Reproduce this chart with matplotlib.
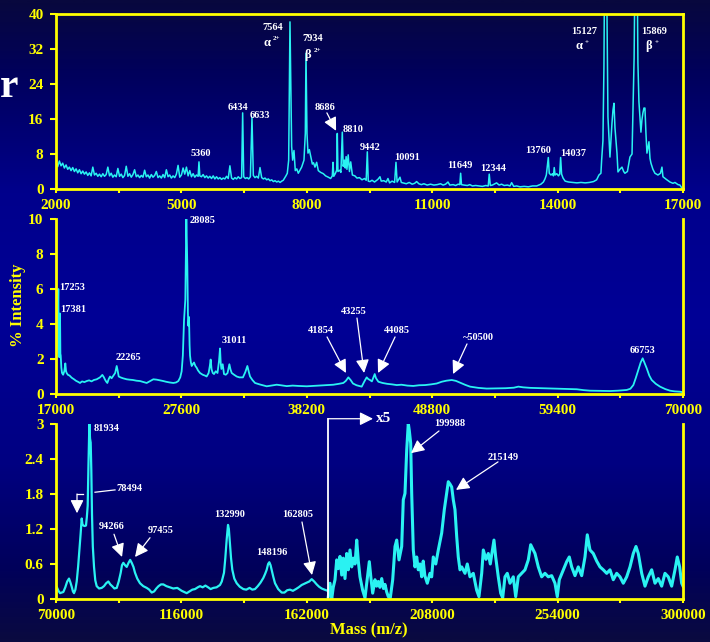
import numpy as np
import matplotlib
matplotlib.use('Agg')
import matplotlib.pyplot as plt
from matplotlib.colors import LinearSegmentedColormap

plt.rcParams['font.family'] = ['Liberation Serif', 'DejaVu Serif']
plt.rcParams['font.weight'] = 'bold'

YEL = '#ffff00'
CYAN = '#2af2f2'

# (mass, % intensity)
top_spec = [
    (2000, 6.0), (2040, 5.1), (2080, 6.4), (2120, 5.3), (2160, 5.9), (2200, 4.8), (2240, 5.5),
    (2280, 4.5), (2320, 5.0), (2360, 4.2), (2400, 4.9), (2440, 4.0), (2480, 4.6), (2520, 3.7),
    (2560, 4.4), (2600, 3.5), (2640, 4.1), (2680, 3.4), (2720, 3.9), (2760, 3.1), (2800, 3.7),
    (2840, 3.0), (2880, 5.0), (2920, 3.2), (2960, 3.6), (3000, 2.9), (3040, 3.4), (3080, 2.8),
    (3120, 3.5), (3160, 2.9), (3200, 3.3), (3240, 5.0), (3280, 3.0), (3320, 3.6), (3360, 2.7),
    (3400, 3.2), (3440, 2.8), (3480, 4.7), (3520, 2.9), (3560, 3.4), (3600, 2.6), (3640, 3.1),
    (3680, 5.2), (3720, 2.9), (3760, 3.5), (3800, 2.7), (3840, 3.3), (3880, 4.4), (3920, 2.8),
    (3960, 3.2), (4000, 2.6), (4040, 3.1), (4080, 2.7), (4120, 4.3), (4160, 2.8), (4200, 3.2),
    (4240, 2.5), (4280, 3.3), (4320, 2.7), (4360, 3.1), (4400, 4.0), (4440, 2.6), (4480, 3.0),
    (4520, 2.5), (4560, 3.3), (4600, 2.6), (4640, 4.4), (4680, 2.8), (4720, 3.2), (4760, 2.5),
    (4800, 3.0), (4840, 2.6), (4880, 3.4), (4920, 5.4), (4960, 2.7), (5000, 3.2), (5040, 4.8),
    (5080, 3.4), (5120, 5.0), (5160, 3.0), (5200, 4.2), (5240, 2.8), (5280, 3.5), (5320, 2.7),
    (5360, 3.2), (5400, 2.9), (5420, 6.2), (5440, 3.0), (5480, 2.8), (5520, 3.3), (5560, 2.6),
    (5600, 3.0), (5640, 2.5), (5680, 2.9), (5720, 2.4), (5760, 3.0), (5800, 2.3), (5840, 2.8),
    (5880, 2.3), (5920, 2.6), (5960, 2.2), (6000, 2.5), (6040, 2.3), (6080, 2.9), (6120, 2.4),
    (6160, 5.3), (6200, 2.5), (6240, 2.2), (6280, 2.6), (6320, 2.3), (6360, 2.8), (6400, 2.4),
    (6440, 2.6), (6465, 17.4), (6490, 2.8), (6530, 2.4), (6570, 2.6), (6610, 2.3), (6650, 2.8),
    (6688, 16.4), (6720, 3.1), (6760, 2.6), (6800, 2.9), (6840, 2.5), (6880, 4.9), (6920, 2.6),
    (6960, 2.3), (7000, 2.5), (7040, 2.1), (7080, 2.3), (7120, 1.9), (7160, 2.1), (7200, 1.7),
    (7240, 1.9), (7280, 1.6), (7320, 1.8), (7360, 1.5), (7400, 1.8), (7437, 2.0), (7500, 3.0),
    (7533, 3.6), (7566, 6.6), (7597, 38.2), (7637, 9.7), (7661, 6.6), (7693, 8.8), (7724, 4.2),
    (7760, 4.6), (7796, 3.6), (7840, 4.4), (7876, 5.0), (7932, 6.6), (7964, 12.7), (7980, 31.0),
    (8004, 12.7), (8028, 8.2), (8060, 9.0), (8093, 7.5), (8132, 5.7), (8160, 6.0), (8195, 5.0),
    (8235, 6.1), (8275, 4.2), (8330, 3.8), (8395, 3.5), (8450, 3.0), (8514, 2.7), (8570, 2.4),
    (8610, 3.0), (8626, 6.1), (8645, 2.9), (8680, 3.5), (8715, 4.3), (8729, 12.7), (8745, 4.0),
    (8790, 4.3), (8815, 3.8), (8849, 13.0), (8870, 5.2), (8900, 6.6), (8920, 4.8), (8940, 7.4),
    (8960, 4.5), (8990, 7.8), (9020, 4.0), (9050, 6.2), (9090, 3.2), (9150, 3.0), (9200, 2.5),
    (9260, 2.6), (9320, 2.1), (9380, 2.4), (9420, 2.0), (9447, 8.5), (9470, 1.8), (9511, 1.7),
    (9560, 2.0), (9620, 1.6), (9700, 2.2), (9750, 2.8), (9780, 1.8), (9840, 1.9), (9900, 1.6),
    (9941, 2.4), (9980, 1.4), (10040, 1.8), (10100, 1.5), (10133, 6.1), (10160, 1.6),
    (10229, 2.7), (10260, 1.5), (10301, 1.4), (10380, 1.2), (10450, 1.5), (10520, 1.1),
    (10580, 1.3), (10627, 1.7), (10680, 1.2), (10740, 1.0), (10800, 1.2), (10880, 0.9),
    (10960, 1.1), (11040, 0.9), (11120, 1.0), (11200, 1.2), (11260, 0.9), (11320, 1.1),
    (11377, 1.6), (11420, 0.9), (11500, 1.0), (11560, 0.8), (11620, 1.1), (11660, 1.0),
    (11680, 3.6), (11700, 1.0), (11760, 0.9), (11840, 0.8), (11900, 1.0), (11960, 0.7),
    (12040, 0.8), (12120, 0.7), (12200, 0.6), (12280, 0.8), (12340, 0.7), (12364, 3.4),
    (12390, 0.8), (12440, 0.9), (12500, 1.2), (12540, 1.4), (12600, 0.9), (12660, 1.1),
    (12720, 0.8), (12800, 0.9), (12860, 0.7), (12900, 1.45), (12950, 0.6), (13020, 0.7),
    (13100, 0.5), (13200, 0.6), (13300, 0.5), (13400, 0.7), (13500, 0.7), (13600, 1.1),
    (13660, 1.6), (13697, 2.3), (13730, 3.2), (13777, 7.2), (13800, 3.6), (13840, 3.2),
    (13880, 3.5), (13900, 3.0), (13919, 4.9), (13940, 3.2), (13980, 3.5), (14020, 3.0),
    (14050, 3.4), (14072, 7.2), (14095, 3.4), (14130, 2.5), (14180, 1.8), (14260, 1.6),
    (14360, 1.5), (14460, 1.4), (14560, 1.5), (14660, 1.4), (14760, 1.5), (14860, 1.7),
    (14933, 2.1), (14989, 3.2), (15036, 3.6), (15053, 6.6), (15084, 11.0), (15108, 28.0),
    (15130, 60.0), (15149, 80.0), (15165, 60.0), (15181, 40.0), (15204, 16.5), (15252, 7.3),
    (15300, 15.0), (15324, 18.0), (15348, 19.6), (15372, 14.0), (15420, 8.2), (15444, 3.9),
    (15490, 4.5), (15540, 5.0), (15580, 4.0), (15610, 3.6), (15670, 4.0), (15730, 7.3),
    (15780, 8.0), (15802, 18.0), (15830, 30.0), (15850, 50.0), (15873, 80.0), (15895, 60.0),
    (15921, 28.8), (15945, 20.0), (15993, 13.0), (16017, 15.8), (16041, 17.4), (16065, 18.5),
    (16089, 18.5), (16113, 12.8), (16137, 8.2), (16160, 9.5), (16185, 10.8), (16210, 7.0),
    (16233, 5.9), (16280, 4.5), (16328, 3.6), (16400, 3.2), (16460, 3.6), (16496, 5.0),
    (16520, 2.8), (16600, 2.2), (16687, 1.6), (16760, 1.3), (16807, 1.5), (16880, 1.0),
    (16926, 0.9), (16974, 0.2),
]

mid_spec = [
    (17000, 2.2), (17060, 2.4), (17130, 3.5), (17195, 6.0), (17240, 2.6), (17279, 2.1),
    (17310, 3.0), (17338, 4.6), (17370, 2.3), (17397, 2.2), (17450, 1.5), (17507, 1.2),
    (17600, 1.1), (17700, 1.3), (17786, 1.75), (17850, 1.3), (17900, 1.2), (18000, 1.1),
    (18150, 1.05), (18322, 0.93), (18500, 0.85), (18700, 0.75), (18850, 0.7), (19029, 0.63),
    (19200, 0.72), (19400, 0.68), (19593, 0.74), (19800, 0.78), (20000, 0.72), (20200, 0.8),
    (20438, 0.84), (20600, 0.9), (20720, 0.95), (20917, 1.09), (21050, 0.95), (21142, 0.82),
    (21250, 0.7), (21339, 0.63), (21450, 0.85), (21565, 1.0), (21700, 0.9), (21850, 1.05),
    (22000, 1.2), (22130, 1.6), (22220, 1.3), (22299, 1.0), (22450, 0.95), (22650, 0.9),
    (22975, 0.84), (23200, 0.82), (23500, 0.8), (23800, 0.76), (24100, 0.74), (24400, 0.68),
    (24663, 0.63), (24900, 0.72), (25226, 0.84), (25500, 0.82), (25800, 0.78), (26071, 0.74),
    (26300, 0.7), (26600, 0.66), (26916, 0.63), (27150, 0.66), (27338, 0.74), (27500, 0.95),
    (27620, 1.3), (27720, 2.2), (27820, 4.2), (27930, 5.4), (27975, 8.0), (28015, 10.1),
    (28060, 8.5), (28100, 7.3), (28150, 4.6), (28185, 3.9), (28240, 4.4), (28290, 2.8),
    (28327, 2.2), (28400, 1.8), (28468, 1.6), (28560, 1.7), (28665, 1.8), (28780, 1.6),
    (28890, 1.5), (29000, 1.35), (29170, 1.2), (29400, 1.1), (29600, 1.05), (29733, 1.0),
    (29900, 1.2), (30000, 1.6), (30071, 1.97), (30150, 1.4), (30250, 1.2), (30355, 1.14),
    (30500, 1.3), (30650, 1.2), (30780, 1.9), (30863, 2.6), (30920, 1.8), (30976, 1.43),
    (31089, 1.7), (31150, 1.4), (31200, 1.14), (31350, 1.1), (31500, 1.2), (31652, 1.7),
    (31750, 1.4), (31850, 1.2), (32050, 1.1), (32273, 1.0), (32500, 0.95), (32800, 0.95),
    (33000, 1.25), (33174, 1.6), (33300, 1.25), (33400, 1.0), (33600, 0.8), (33822, 0.63),
    (34200, 0.55), (34810, 0.44), (35200, 0.48), (35655, 0.53), (36000, 0.5), (36500, 0.45),
    (37000, 0.48), (37500, 0.46), (38193, 0.44), (38700, 0.46), (39200, 0.48), (39800, 0.5),
    (40440, 0.53), (40900, 0.58), (41286, 0.63), (41500, 0.75), (41710, 0.95), (41900, 0.8),
    (42100, 0.6), (42400, 0.5), (42840, 0.42), (43050, 0.7), (43260, 0.95), (43400, 0.85),
    (43540, 0.8), (43700, 0.72), (43940, 1.14), (44050, 0.9), (44250, 0.7), (44600, 0.63),
    (45000, 0.58), (45400, 0.55), (45800, 0.51), (46200, 0.53), (46700, 0.48), (47200, 0.46),
    (47700, 0.5), (48200, 0.51), (48700, 0.55), (49180, 0.6), (49600, 0.7), (50000, 0.76),
    (50450, 0.8), (50800, 0.75), (51150, 0.65), (51600, 0.52), (52000, 0.42), (52700, 0.35),
    (53400, 0.31), (54200, 0.32), (55000, 0.33), (55700, 0.36), (56080, 0.42), (56500, 0.38),
    (57100, 0.35), (57630, 0.34), (58300, 0.33), (59000, 0.32), (59700, 0.3), (60400, 0.29),
    (61020, 0.27), (61600, 0.22), (62140, 0.19), (62900, 0.18), (63830, 0.17), (64500, 0.19),
    (65240, 0.23), (65550, 0.3), (65800, 0.51), (66000, 0.9), (66220, 1.37), (66420, 1.8),
    (66590, 2.04), (66760, 1.75), (66930, 1.47), (67150, 1.05), (67350, 0.8), (67700, 0.58),
    (68060, 0.42), (68500, 0.28), (68900, 0.19), (69300, 0.15), (69750, 0.13), (70000, 0.1),
]

low_spec = [
    (70000, 0.2), (70240, 0.21), (70900, 0.14), (71470, 0.1), (72100, 0.11), (72690, 0.12),
    (73400, 0.2), (74100, 0.3), (74770, 0.35), (75300, 0.28), (75760, 0.21), (76200, 0.13),
    (76600, 0.1), (77100, 0.16), (77590, 0.3), (78100, 0.55), (78550, 0.82), (79000, 1.1),
    (79420, 1.38), (79700, 1.28), (80010, 1.26), (80500, 1.25), (81000, 1.26), (81300, 1.4),
    (81620, 1.6), (81900, 2.3), (82230, 3.0), (82480, 2.75), (82720, 2.68), (82950, 2.2),
    (83200, 1.45), (83500, 0.9), (83940, 0.55), (84400, 0.32), (84920, 0.22), (85800, 0.18),
    (86760, 0.19), (87600, 0.22), (88400, 0.27), (89200, 0.3), (89900, 0.25), (90600, 0.22),
    (91400, 0.18), (92270, 0.19), (93000, 0.3), (93730, 0.45), (94200, 0.58), (94700, 0.62),
    (95300, 0.58), (95930, 0.55), (96600, 0.62), (97200, 0.67), (97770, 0.62), (98400, 0.55),
    (98980, 0.45), (99800, 0.35), (100800, 0.27), (102000, 0.22), (103270, 0.19),
    (104200, 0.16), (105100, 0.11), (106000, 0.13), (106800, 0.18), (107600, 0.22),
    (108500, 0.25), (109360, 0.25), (110500, 0.22), (111800, 0.2), (113000, 0.18),
    (114500, 0.19), (116100, 0.14), (117000, 0.12), (117940, 0.1), (119000, 0.13),
    (120000, 0.16), (121000, 0.17), (122000, 0.2), (122820, 0.22), (123800, 0.2),
    (124800, 0.23), (125800, 0.2), (126700, 0.17), (127700, 0.19), (128900, 0.2),
    (130150, 0.24), (130800, 0.3), (131620, 0.45), (132100, 0.7), (132600, 1.02),
    (133090, 1.27), (133400, 1.2), (133820, 0.95), (134200, 0.7), (134670, 0.5),
    (135400, 0.35), (136280, 0.27), (137400, 0.21), (138700, 0.17), (139800, 0.16),
    (141000, 0.19), (142000, 0.16), (143000, 0.17), (144000, 0.22), (145000, 0.28),
    (146040, 0.36), (146700, 0.43), (147270, 0.5), (147800, 0.6), (148240, 0.63),
    (148700, 0.58), (149100, 0.5), (149700, 0.38), (150330, 0.27), (151500, 0.17),
    (152780, 0.11), (153800, 0.11), (154800, 0.15), (155830, 0.16), (156900, 0.14),
    (158000, 0.17), (159000, 0.2), (160120, 0.24), (161000, 0.26), (161950, 0.28),
    (162900, 0.3), (163790, 0.34), (164700, 0.3), (165620, 0.25), (166500, 0.21),
    (167460, 0.18), (168500, 0.16), (169660, 0.14),
]

# the part of the low-mass panel shown magnified x5
x5_spec = [
    (169880, 0.04), (170500, 0.27), (171130, 0.0), (171700, 0.2), (172340, 0.33),
    (172960, 0.67), (173550, 0.52), (174170, 0.73), (174800, 0.41), (175380, 0.7),
    (176000, 0.35), (176630, 0.78), (177220, 0.5), (177840, 0.84), (178460, 0.55),
    (179050, 0.7), (179700, 0.6), (180300, 1.01), (180890, 0.65), (181500, 0.38),
    (182480, 0.15), (183340, 0.02), (184070, 0.3), (184920, 0.64), (185540, 0.35),
    (186160, 0.1), (187010, 0.33), (187600, 0.22), (188220, 0.3), (188800, 0.2),
    (189470, 0.35), (190100, 0.18), (190680, 0.25), (191300, 0.12), (191890, 0.04),
    (192620, 0.02), (193500, 0.33), (194350, 0.9), (194970, 1.01), (195810, 0.67),
    (196800, 0.9), (197390, 1.7), (198010, 1.81), (198640, 2.55), (199220, 3.01),
    (199590, 2.89), (200100, 2.67), (200470, 1.81), (201060, 0.84), (201680, 0.55),
    (202310, 0.72), (202890, 0.5), (203520, 0.6), (204140, 0.38), (204700, 0.65),
    (205300, 0.4), (206190, 0.27), (207180, 0.44), (207800, 0.38), (208390, 0.72),
    (209300, 0.6), (210230, 0.84), (211470, 1.13), (212430, 1.53), (213310, 1.81),
    (213900, 2.01), (214520, 1.97), (215140, 1.92), (215730, 1.7), (216350, 1.53),
    (216980, 1.07), (217560, 0.72), (218190, 0.5), (218810, 0.55), (220020, 0.44),
    (220860, 0.6), (221850, 0.38), (223060, 0.44), (224310, 0.15), (225150, 0.04),
    (226150, 0.44), (226740, 0.84), (227720, 0.68), (228570, 0.78), (229300, 0.6),
    (230650, 1.01), (231280, 0.72), (232230, 0.38), (233120, 0.1), (233850, 0.02),
    (234690, 0.38), (235540, 0.44), (236530, 0.27), (237740, 0.38), (238620, 0.04),
    (239570, 0.38), (240820, 0.44), (242030, 0.5), (243240, 0.67), (244120, 0.93),
    (244960, 0.85), (245700, 0.78), (246910, 0.55), (248150, 0.38), (249360, 0.44),
    (250570, 0.38), (251820, 0.4), (253030, 0.27), (253880, 0.04), (254610, 0.33),
    (256080, 0.5), (257330, 0.64), (258280, 0.72), (259160, 0.55), (260370, 0.4),
    (261580, 0.55), (262830, 0.4), (264040, 0.72), (264880, 1.1), (265870, 0.84),
    (267080, 0.78), (268330, 0.65), (269540, 0.55), (270750, 0.5), (272000, 0.44),
    (273210, 0.5), (274420, 0.33), (275670, 0.44), (276880, 0.38), (278090, 0.27),
    (279340, 0.38), (280550, 0.55), (281760, 0.78), (282750, 0.9), (283590, 0.78),
    (284840, 0.44), (286050, 0.22), (287260, 0.38), (288510, 0.5), (289720, 0.27),
    (290930, 0.35), (292170, 0.22), (293380, 0.44), (294590, 0.38), (295840, 0.22),
    (297050, 0.5), (297890, 0.72), (298770, 0.55), (299500, 0.27), (300000, 0.22),
]

top_xticks = [2000, 5000, 8000, 11000, 14000, 17000]
mid_xticks = [17000, 27600, 38200, 48800, 59400, 70000]
low_xticks = [70000, 116000, 162000, 208000, 254000, 300000]
top_yticks = [0, 8, 16, 24, 32, 40]
mid_yticks = [0, 2, 4, 6, 8, 10]
low_yticks = [0, 0.6, 1.2, 1.8, 2.4, 3]
low_ylabels = ['0', '0.6', '1.2', '1.8', '2.4', '3']

# peak labels: (text, mass, intensity, ha)
top_labels = [('7564', 7190, 37.0, 'center'), ('7934', 8150, 34.5, 'center'),
              ('6434', 6350, 18.7, 'center'), ('6633', 6880, 16.7, 'center'),
              ('5360', 5470, 8.2, 'center'), ('8686', 8430, 18.7, 'center'),
              ('8810', 9100, 13.7, 'center'), ('9442', 9510, 9.4, 'center'),
              ('10091', 10400, 7.3, 'center'), ('11649', 11660, 5.3, 'center'),
              ('12344', 12450, 4.8, 'center'), ('13760', 13530, 8.9, 'center'),
              ('14037', 14370, 8.2, 'center'), ('15127', 14630, 35.9, 'center'),
              ('15869', 16300, 35.9, 'center')]
top_greek = [('α', '2+', 6960, 33.4), ('β', '2+', 7930, 30.6),
             ('α', '+', 14420, 32.6), ('β', '+', 16090, 32.6)]
mid_labels = [('17253', 17250, 6.06, 'left'), ('17381', 17340, 4.8, 'left'),
              ('28085', 28330, 9.89, 'left'), ('22265', 23090, 2.06, 'center'),
              ('31011', 32050, 3.03, 'center'), ('41854', 39400, 3.6, 'center'),
              ('43255', 42190, 4.69, 'center'), ('44085', 45830, 3.6, 'center'),
              ('~50500', 52670, 3.2, 'center'), ('66753', 66540, 2.51, 'center')]
low_labels = [('81934', 83940, 2.93, 'left'), ('78494', 96780, 1.89, 'center'),
              ('94266', 90540, 1.25, 'center'), ('97455', 108510, 1.18, 'center'),
              ('132990', 133820, 1.44, 'center'), ('148196', 149230, 0.79, 'center'),
              ('162805', 158770, 1.44, 'center'), ('199988', 214520, 3.0, 'center'),
              ('215149', 233960, 2.43, 'center')]
# arrows: (from mass, from int, to mass, to int)
top_arrows = [(8480, 17.4, 8700, 13.3)]
mid_arrows = [(39910, 3.26, 41510, 1.2), (42440, 4.34, 43040, 1.2),
              (45660, 3.26, 44220, 1.2), (51740, 2.86, 50560, 1.14)]
low_arrows = [(91270, 1.11, 94210, 0.72), (104480, 1.05, 98980, 0.72),
              (160230, 1.32, 163900, 0.41), (210480, 2.88, 200210, 2.5),
              (232130, 2.35, 216720, 1.87), (77700, 1.8, 77700, 1.47)]
x5_start = 169770
x5_top = 3.09
x5_arrow_end = 186280

fig = plt.figure(figsize=(7.1, 6.42), dpi=100)

# slide background
bg = fig.add_axes([0, 0, 1, 1], zorder=-10)
cmap = LinearSegmentedColormap.from_list(
    'slide', [(0, '#08083e'), (0.12, '#00005e'), (0.3, '#00008c'), (0.5, '#000096'),
              (0.72, '#000082'), (0.88, '#00005c'), (1, '#0a0a40')])
bg.imshow(np.linspace(0, 1, 300)[:, None], aspect='auto', cmap=cmap, extent=[0, 1, 0, 1])
bg.set_axis_off()


def panel(rect, xlim, ylim, xticks, yticks, ylabels=None, top=False):
    ax = fig.add_axes(rect)
    ax.set_facecolor('none')
    ax.set_xlim(xlim)
    ax.set_ylim(ylim)
    for s in ['left', 'bottom', 'right', 'top']:
        ax.spines[s].set_color(YEL)
        ax.spines[s].set_linewidth(2)
    ax.spines['top'].set_visible(top)
    ax.set_xticks(xticks)
    ax.set_xticklabels([str(t) for t in xticks])
    ax.set_xticks([(a + b) / 2 for a, b in zip(xticks[:-1], xticks[1:])], minor=True)
    ax.set_yticks(yticks)
    ax.set_yticklabels(ylabels if ylabels else [str(t) for t in yticks])
    ax.tick_params(axis='both', which='both', colors=YEL, width=1.5, labelsize=11)
    ax.tick_params(axis='x', which='both', length=3, pad=4)
    ax.tick_params(axis='y', length=4, pad=5)
    for t in ax.get_xticklabels() + ax.get_yticklabels():
        t.set_fontweight('bold')
    return ax


def label(ax, items):
    for txt, x, y, ha in items:
        ax.text(x, y, txt, color='white', fontsize=7.5, fontweight='bold',
                ha=ha, va='center', clip_on=False)


def arrows(ax, items):
    for x0, y0, x1, y1 in items:
        ax.annotate('', xy=(x1, y1), xytext=(x0, y0), annotation_clip=False,
                    arrowprops=dict(arrowstyle='-|>,head_length=0.8,head_width=0.4',
                                    color='white', lw=0.9, shrinkA=0, shrinkB=0))


ax1 = panel([0.0789, 0.7056, 0.8831, 0.2726], (2000, 17000), (0, 40),
            top_xticks, top_yticks, top=True)
m, v = zip(*top_spec)
ax1.plot(m, v, color=CYAN, lw=1.1)
label(ax1, top_labels)
for g, sup, x, y in top_greek:
    ax1.text(x, y, g, color='white', fontsize=9, fontweight='bold', ha='left', va='center')
    ax1.annotate(sup, xy=(x, y), xytext=(7, 3), textcoords='offset points', color='white',
                 fontsize=5, fontweight='bold', ha='left', va='center')
arrows(ax1, top_arrows)

ax2 = panel([0.0789, 0.3863, 0.8831, 0.2726], (17000, 70000), (0, 10),
            mid_xticks, mid_yticks)
m, v = zip(*mid_spec)
ax2.plot(m, v, color=CYAN, lw=1.3)
label(ax2, mid_labels)
arrows(ax2, mid_arrows)

ax3 = panel([0.0789, 0.0670, 0.8831, 0.2726], (70000, 300000), (0, 3),
            low_xticks, low_yticks, low_ylabels)
m, v = zip(*low_spec)
ax3.plot(m, v, color=CYAN, lw=1.6)
m, v = zip(*x5_spec)
ax3.plot(m, v, color=CYAN, lw=2.2)
label(ax3, low_labels)
arrows(ax3, low_arrows)
# bracket for 78494
ax3.plot([84300, 91640], [1.83, 1.87], color='white', lw=0.9)
ax3.plot([77700, 79900], [1.8, 1.8], color='white', lw=0.9)
# x5 marker
ax3.plot([x5_start, x5_start], [0, x5_top], color='white', lw=1.3, clip_on=False)
arrows(ax3, [(x5_start, x5_top, x5_arrow_end, x5_top)])
ax3.text(x5_arrow_end + 1100, x5_top, 'x5', color='white', fontsize=11,
         fontweight='bold', ha='left', va='center', clip_on=False)

fig.text(0.52, 0.018, 'Mass (m/z)', color=YEL, fontsize=12, fontweight='bold',
         ha='center', va='center')
fig.text(0.026, 0.525, '% Intensity', color=YEL, fontsize=12, fontweight='bold',
         ha='center', va='center', rotation=90)
fig.text(0.0, 0.849, 'r', color='white', fontsize=30, fontweight='bold',
         ha='left', va='baseline')

fig.savefig('out.png', dpi=100)
